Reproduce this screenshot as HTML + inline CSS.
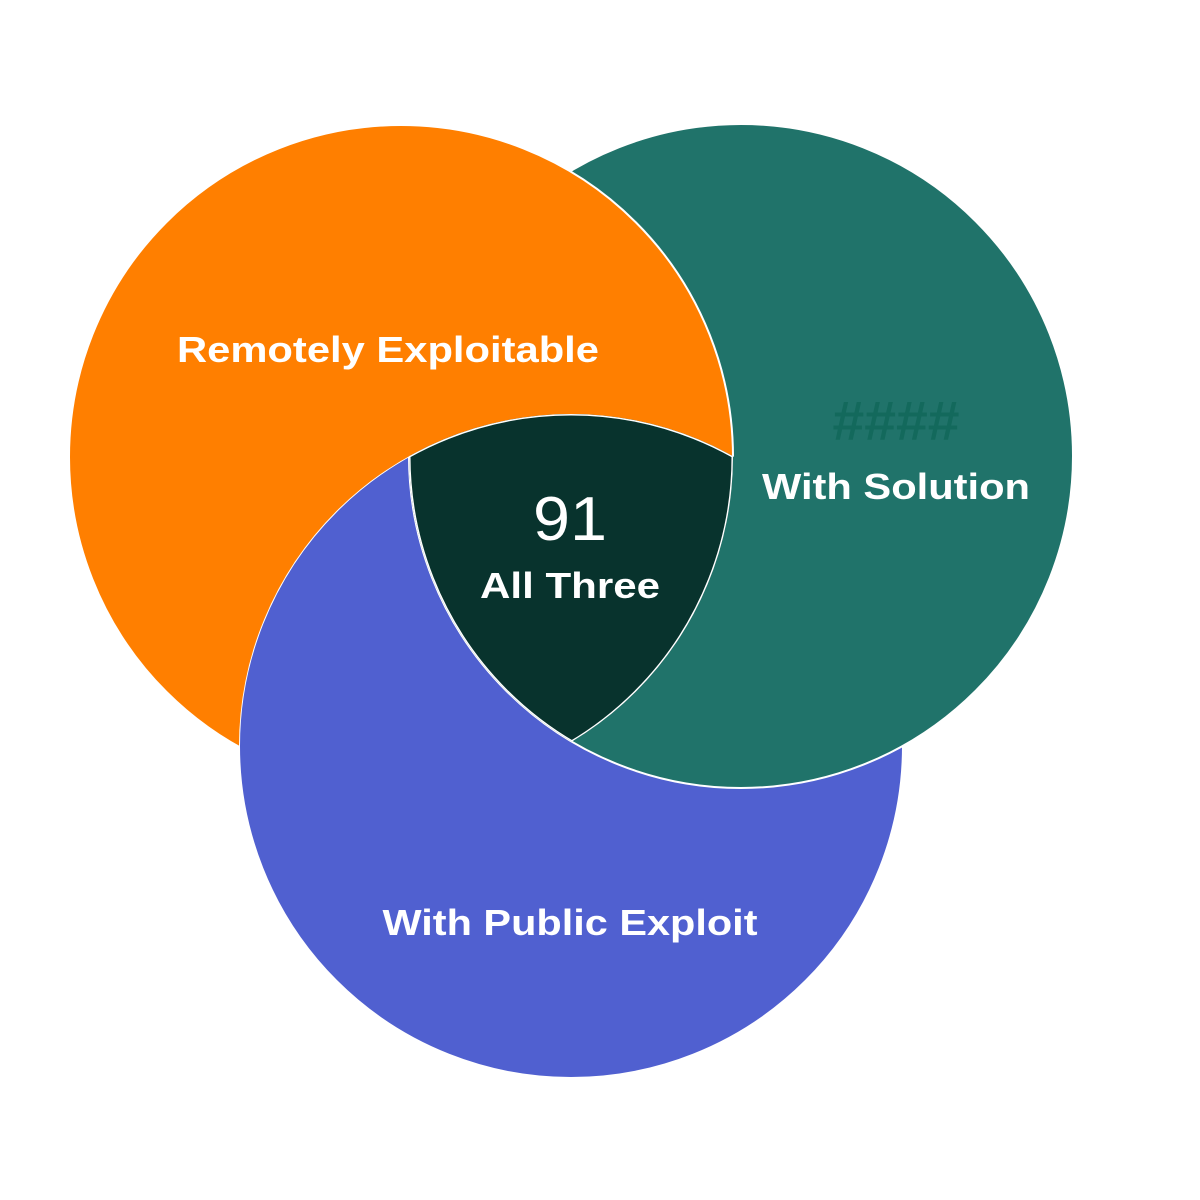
<!DOCTYPE html>
<html><head><meta charset="utf-8"><style>
html,body{margin:0;padding:0;background:#fff;}
svg{display:block;}
text{font-family:"Liberation Sans",sans-serif;fill:#fff;text-anchor:middle;}
</style></head><body>
<svg width="1200" height="1200" viewBox="0 0 1200 1200">
<defs>
<mask id="noBlue">
<rect x="0" y="0" width="1200" height="1200" fill="#fff"/>
<circle cx="571" cy="746" r="332" fill="#000"/>
</mask>
<clipPath id="cO"><circle cx="401" cy="457" r="332"/></clipPath>
<clipPath id="cT"><circle cx="741" cy="456" r="332"/></clipPath>
<clipPath id="cB"><circle cx="571" cy="746" r="332"/></clipPath>
</defs>
<circle cx="571" cy="746" r="332" fill="#5060D0" stroke="#fff" stroke-width="2"/>
<circle cx="741" cy="456" r="332" fill="#20736A" stroke="#fff" stroke-width="2"/>
<circle cx="401" cy="457" r="332" fill="#FF7F00" stroke="#fff" stroke-width="2" mask="url(#noBlue)"/>
<g clip-path="url(#cO)"><g clip-path="url(#cT)"><g clip-path="url(#cB)">
<rect x="0" y="0" width="1200" height="1200" fill="#08332D"/>
<circle cx="401" cy="457" r="332" fill="none" stroke="#fff" stroke-width="3"/>
<circle cx="741" cy="456" r="332" fill="none" stroke="#fff" stroke-width="3"/>
<circle cx="571" cy="746" r="332" fill="none" stroke="#fff" stroke-width="3"/>
</g></g></g>
<text x="388" y="362" font-size="36" font-weight="bold" textLength="422" lengthAdjust="spacingAndGlyphs">Remotely Exploitable</text>
<text x="896" y="440" font-size="56" font-weight="bold" style="fill:#13695c" textLength="127" lengthAdjust="spacingAndGlyphs">####</text>
<text x="896" y="499" font-size="36" font-weight="bold" textLength="268" lengthAdjust="spacingAndGlyphs">With Solution</text>
<text x="570" y="935" font-size="36" font-weight="bold" textLength="375" lengthAdjust="spacingAndGlyphs">With Public Exploit</text>
<text x="570" y="540" font-size="62" textLength="74" lengthAdjust="spacingAndGlyphs">91</text>
<text x="570" y="598" font-size="36" font-weight="bold" textLength="180" lengthAdjust="spacingAndGlyphs">All Three</text>
</svg>
</body></html>
